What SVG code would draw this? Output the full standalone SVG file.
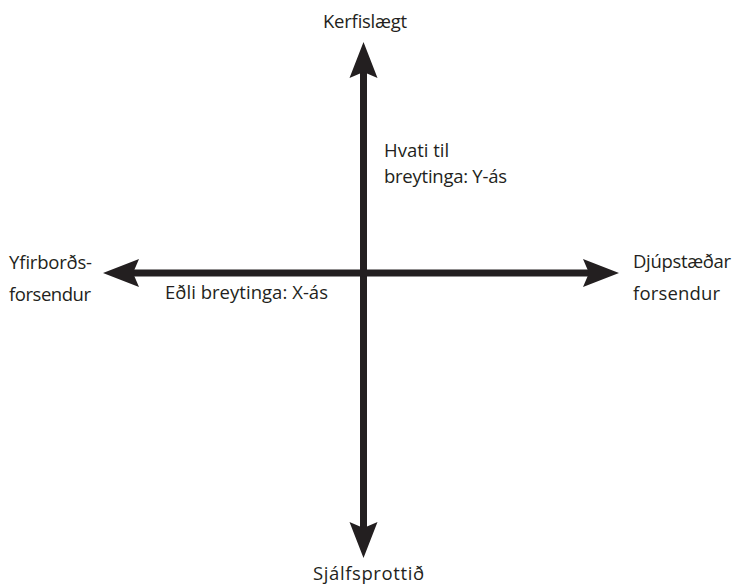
<svg xmlns="http://www.w3.org/2000/svg" width="736" height="585" viewBox="0 0 736 585">
<style>
text{font-family:"Open Sans","Liberation Sans",sans-serif;font-size:18.5px;fill:#231f20}
.ax{stroke:#231f20;stroke-width:7;fill:none}
</style>
<defs>
<marker id="ah" markerUnits="userSpaceOnUse" markerWidth="40" markerHeight="32" viewBox="0 -16 40 32" refX="6" refY="0" orient="auto-start-reverse">
<path d="M0,-14 L36,0 L0,14 L6,0 Z" fill="#231f20"/>
</marker>
</defs>
<rect width="736" height="585" fill="#fff"/>
<g id="connectors">
<line class="ax" x1="363.5" y1="72" x2="363.5" y2="528" marker-start="url(#ah)" marker-end="url(#ah)"/>
<line class="ax" x1="133" y1="273" x2="589" y2="273" marker-start="url(#ah)" marker-end="url(#ah)"/>
</g>
<g id="top"><text x="323" y="28" textLength="84">Kerfislægt</text></g>
<g id="bottom"><text x="313" y="580" textLength="111">Sjálfsprottið</text></g>
<g id="left"><text x="9" y="269" textLength="83">Yfirborðs-</text><text x="9" y="301" textLength="82">forsendur</text></g>
<g id="right"><text x="633" y="268" textLength="98">Djúpstæðar</text><text x="633" y="300" textLength="87">forsendur</text></g>
<g id="ylabel"><text x="384" y="157">Hvati til</text><text x="384" y="183" textLength="123">breytinga: Y-ás</text></g>
<g id="xlabel"><text x="165" y="299" textLength="163">Eðli breytinga: X-ás</text></g>
</svg>
